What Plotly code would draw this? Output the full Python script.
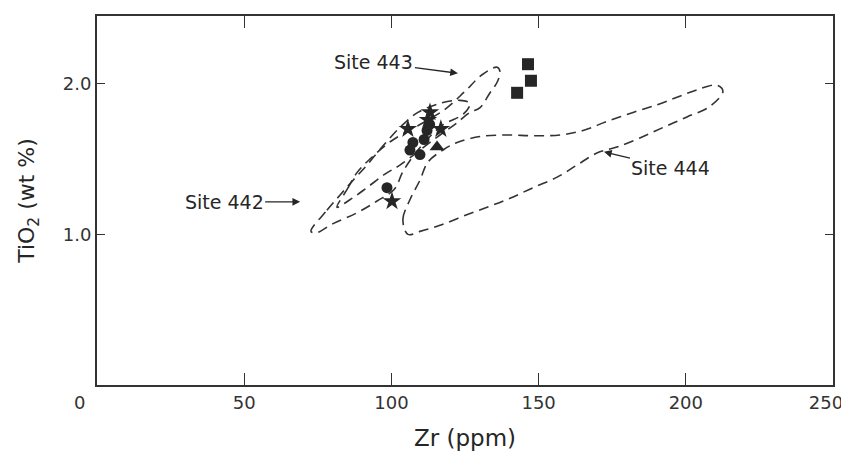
import plotly.graph_objects as go

# ---- data (Zr ppm, TiO2 wt %) ----
square_zr = [146.4, 147.4, 142.7]
square_ti = [2.13, 2.02, 1.94]

star_zr = [113.1, 112.4, 105.6, 116.8, 100.2]
star_ti = [1.81, 1.76, 1.70, 1.70, 1.22]

circle_zr = [106.3, 109.7, 107.3, 111.1, 112.1, 98.5, 113.0]
circle_ti = [1.56, 1.53, 1.61, 1.63, 1.69, 1.31, 1.73]

triangle_zr = [115.5]
triangle_ti = [1.58]

site442_zr = [72.7, 78.1, 82.5, 87.0, 91.7, 96.8, 102.9, 109.0, 116.5, 123.3, 126.7,
              124.5, 117.0, 109.0, 104.0, 101.0, 95.0, 88.0, 80.0, 74.5, 72.7]
site442_ti = [1.02, 1.16, 1.26, 1.36, 1.46, 1.58, 1.71, 1.81, 1.87, 1.89, 1.87,
              1.80, 1.72, 1.56, 1.42, 1.30, 1.22, 1.14, 1.07, 1.01, 1.02]

site443_zr = [81.5, 85.0, 88.3, 92.7, 100.0, 109.7, 118.2, 125.0, 130.8, 135.9, 136.9,
              135.9, 133.5, 130.0, 126.7, 121.6, 116.5, 109.7, 102.9, 97.8, 91.0, 85.9, 81.5]
site443_ti = [1.18, 1.30, 1.41, 1.50, 1.62, 1.73, 1.83, 1.95, 2.06, 2.11, 2.08,
              2.01, 1.94, 1.84, 1.81, 1.73, 1.66, 1.56, 1.46, 1.40, 1.30, 1.23, 1.18]

site444_zr = [105.6, 103.9, 106.3, 109.7, 112.4, 117.5, 122.3, 130.1, 139.3, 148.1, 157.3,
              165.1, 173.2, 182.1, 190.2, 197.0, 203.8, 210.6, 212.6, 208.2, 200.4, 192.3,
              184.4, 176.6, 169.8, 163.0, 156.3, 148.1, 140.3, 132.5, 124.3, 116.5, 109.7, 105.6]
site444_ti = [1.00, 1.10, 1.23, 1.36, 1.48, 1.56, 1.61, 1.65, 1.66, 1.655, 1.66,
              1.69, 1.75, 1.81, 1.86, 1.91, 1.96, 1.99, 1.95, 1.85, 1.78, 1.71,
              1.64, 1.58, 1.54, 1.46, 1.38, 1.31, 1.24, 1.18, 1.12, 1.06, 1.02, 1.00]

x_ticks = [0, 50, 100, 150, 200]
x_tick_text = ["0" + "&nbsp;" * 6, "50", "100", "150", "200"]
x_end_tick = [250]
x_end_text = ["250"]
y_ticks = [1.0, 2.0]
y_tick_text = ["1.0", "2.0"]

# label anchors (arrow tips, data coords)
labels = ["Site 442", "Site 443", "Site 444"]
label_zr = [69.0, 122.6, 172.2]
label_ti = [1.216, 2.07, 1.548]

INK = "#262626"
FONT = "DejaVu Sans, Liberation Sans, sans-serif"

fig = go.Figure()

for zr, ti in [(site442_zr, site442_ti), (site443_zr, site443_ti), (site444_zr, site444_ti)]:
    fig.add_trace(go.Scatter(x=zr, y=ti, mode="lines",
                             line=dict(color="#333333", width=1.6, dash="10px,6px", shape="spline", smoothing=1.0),
                             hoverinfo="skip", showlegend=False))

fig.add_trace(go.Scatter(x=circle_zr, y=circle_ti, mode="markers",
                         marker=dict(symbol="circle", size=11, color=INK), showlegend=False))
fig.add_trace(go.Scatter(x=star_zr, y=star_ti, mode="markers",
                         marker=dict(symbol="star", size=14, color=INK), showlegend=False))
fig.add_trace(go.Scatter(x=triangle_zr, y=triangle_ti, mode="markers",
                         marker=dict(symbol="triangle-up", size=13, color=INK), showlegend=False))
fig.add_trace(go.Scatter(x=square_zr, y=square_ti, mode="markers",
                         marker=dict(symbol="square", size=12, color=INK), showlegend=False))
# placeholder trace so the overlay axis carrying the end label is drawn
fig.add_trace(go.Scatter(x=[None], y=[None], xaxis="x2", mode="markers",
                         hoverinfo="skip", showlegend=False))

offsets = [(-76, 0), (-84, -11), (67, 16)]
for name, zx, ty, (ax, ay) in zip(labels, label_zr, label_ti, offsets):
    fig.add_annotation(x=zx, y=ty, text=name, showarrow=True, ax=ax, ay=ay,
                       arrowhead=2, arrowsize=1.1, arrowwidth=1.4, arrowcolor=INK,
                       standoff=0, font=dict(family=FONT, size=19, color=INK))

tickfont = dict(family=FONT, size=18, color="#333333")
fig.update_layout(
    xaxis=dict(range=[0, 250], tickvals=x_ticks, ticktext=x_tick_text, ticks="inside", ticklen=12,
               tickwidth=1.3, tickcolor="#333333", showline=True, linecolor="#333333", linewidth=2,
               mirror="ticks", showgrid=False, zeroline=False, automargin=False,
               ticklabeloverflow="allow", tickfont=tickfont,
               title=dict(text="Zr (ppm)", font=dict(family=FONT, size=23, color=INK), standoff=18)),
    xaxis2=dict(range=[0, 250], overlaying="x", side="bottom", anchor="y",
                tickvals=x_end_tick, ticktext=x_end_text, ticks="", showline=False,
                showgrid=False, zeroline=False, automargin=False, ticklabelshift=-7,
                ticklabelstandoff=5, ticklabeloverflow="allow", tickfont=tickfont),
    yaxis=dict(range=[0, 2.45], tickvals=y_ticks, ticktext=y_tick_text, ticks="inside", ticklen=8,
               tickwidth=1.3, tickcolor="#333333", showline=True, linecolor="#333333", linewidth=2,
               mirror="ticks", showgrid=False, zeroline=False, automargin=False,
               ticklabeloverflow="allow", tickfont=tickfont,
               title=dict(text="TiO<sub>2</sub> (wt %)", font=dict(family=FONT, size=22, color=INK), standoff=22)),
    # page body adds an 8px offset; size figure to fit the 849x453 window
    width=841, height=445, margin=dict(l=89, r=16, t=8, b=68, autoexpand=False),
    plot_bgcolor="white", paper_bgcolor="white", showlegend=False)

fig.write_html("out.html")
